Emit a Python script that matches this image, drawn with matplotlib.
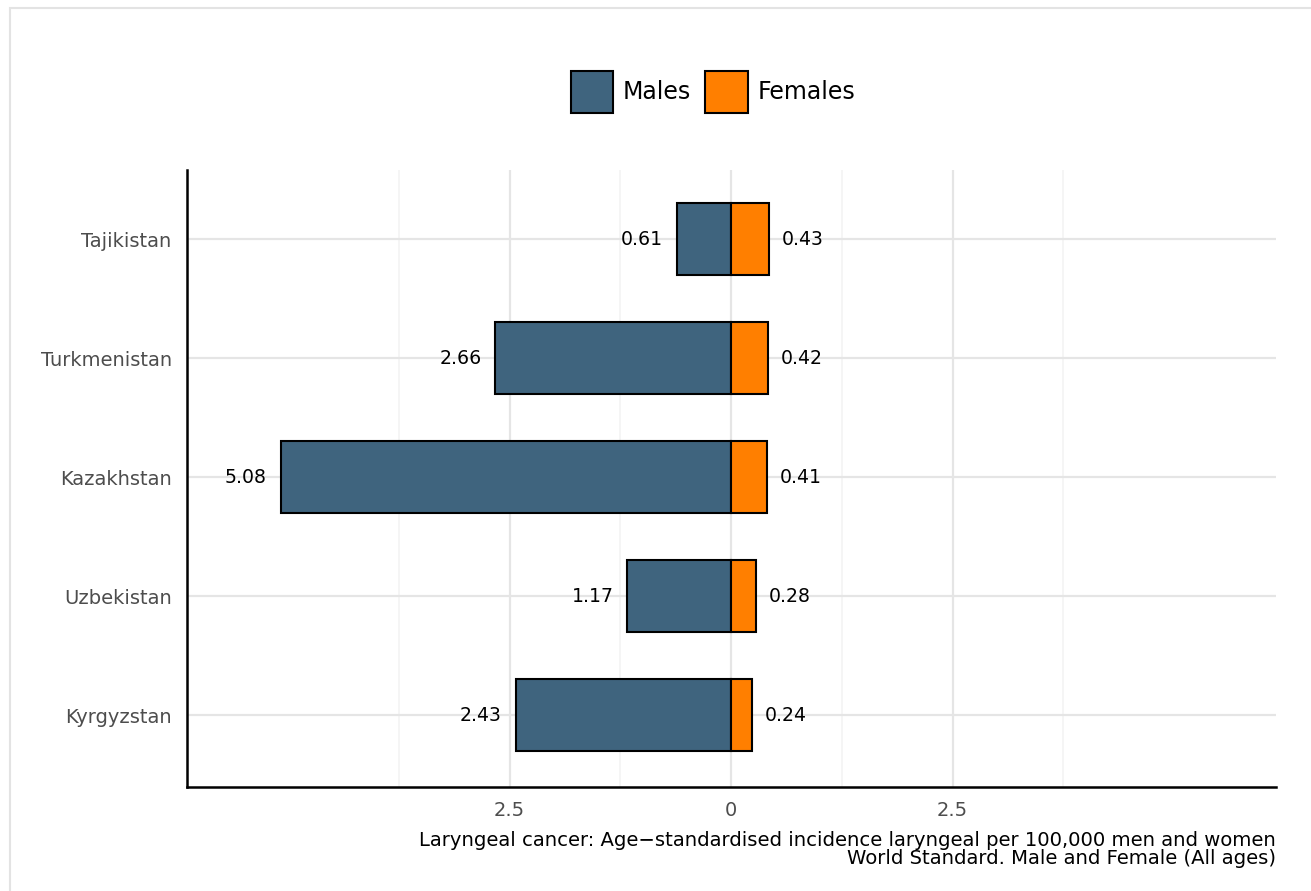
import numpy as np
import matplotlib.pyplot as plt
from matplotlib.patches import Rectangle, Patch

countries = ['Kyrgyzstan', 'Uzbekistan', 'Kazakhstan', 'Turkmenistan', 'Tajikistan']
males = [2.43, 1.17, 5.08, 2.66, 0.61]
females = [0.24, 0.28, 0.41, 0.42, 0.43]
xticks = [-2.5, 0, 2.5]
xtick_labels = ['2.5', '0', '2.5']

male_col = '#3f647e'
female_col = '#ff7f00'

fig = plt.figure(figsize=(13.11, 8.91), dpi=100)
ax = fig.add_axes([187 / 1311, 1 - 787 / 891, (1276 - 187) / 1311, (787 - 170) / 891])

# grey panel border
fig.patches.append(Rectangle((10 / 1311, -0.05), 1.1, 1 - 8 / 891 + 0.05,
                             transform=fig.transFigure, fill=False,
                             edgecolor='#e3e3e3', lw=1.5))

y = np.arange(1, len(countries) + 1)
ax.barh(y, [-m for m in males], height=0.6, color=male_col, edgecolor='black', lw=1.5, zorder=3)
ax.barh(y, females, height=0.6, color=female_col, edgecolor='black', lw=1.5, zorder=3)

for yi, m, f in zip(y, males, females):
    ax.annotate(f'{m:.2f}', (-m, yi), xytext=(-10, 0), textcoords='offset points',
                ha='right', va='center', fontsize=13.6, color='black')
    ax.annotate(f'{f:.2f}', (f, yi), xytext=(9, 0), textcoords='offset points',
                ha='left', va='center', fontsize=13.6, color='black')

ax.set_xlim(-6.14, 6.15)
ax.set_ylim(0.395, 5.58)
ax.set_yticks(y)
ax.set_yticklabels(countries)
ax.set_xticks(xticks)
ax.set_xticklabels(xtick_labels)
ax.set_xticks([-3.75, -1.25, 1.25, 3.75], minor=True)
ax.tick_params(axis='both', which='both', length=0, labelsize=14, labelcolor='#4d4d4d')
ax.tick_params(axis='y', pad=11)
ax.tick_params(axis='x', pad=10)

ax.grid(axis='y', color='#e5e5e5', lw=1.6, zorder=0)
ax.grid(axis='x', which='major', color='#e5e5e5', lw=1.6, zorder=0)
ax.grid(axis='x', which='minor', color='#f3f3f3', lw=1.2, zorder=0)

for s in ['top', 'right']:
    ax.spines[s].set_visible(False)
for s in ['left', 'bottom']:
    ax.spines[s].set_linewidth(1.8)
    ax.spines[s].set_color('black')

handles = [Patch(facecolor=male_col, edgecolor='black', lw=1.5, label='Males'),
           Patch(facecolor=female_col, edgecolor='black', lw=1.5, label='Females')]
fig.legend(handles=handles, loc='center', bbox_to_anchor=(713 / 1311, 1 - 92 / 891),
           ncol=2, frameon=False, fontsize=17, handlelength=1.8, handleheight=2.3,
           handletextpad=0.4, columnspacing=0.6, borderpad=0)

fig.text(1276 / 1311, 1 - 840 / 891,
         'Laryngeal cancer: Age\u2212standardised incidence laryngeal per 100,000 men and women',
         ha='right', va='center', fontsize=14.1)
fig.text(1276 / 1311, 1 - 858 / 891,
         'World Standard. Male and Female (All ages)',
         ha='right', va='center', fontsize=14.1)

fig.savefig('out.png', dpi=100)
